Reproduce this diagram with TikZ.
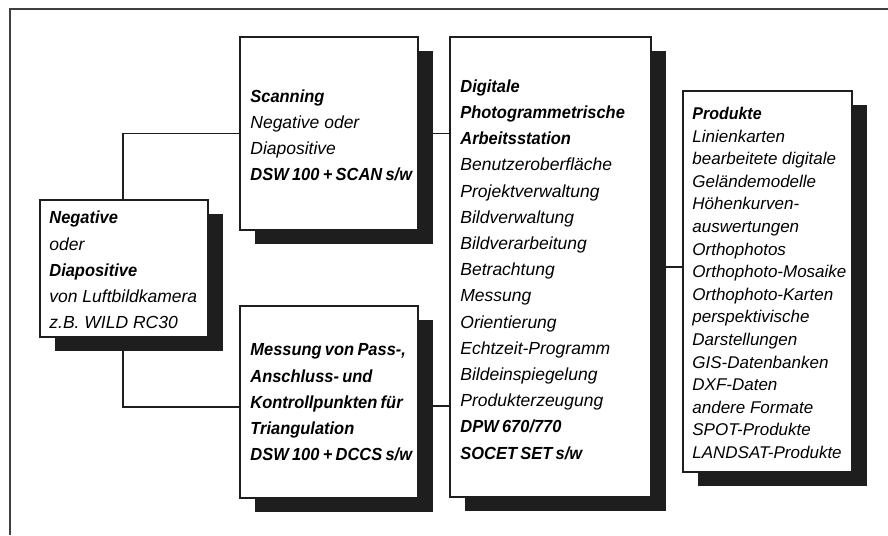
\documentclass[tikz,border=0pt]{standalone}
\usepackage{fontspec}
\setmainfont{Liberation Sans}[BoldFeatures={FakeStretch=0.94,WordSpace=0.72},BoldItalicFeatures={FakeStretch=0.94,WordSpace=0.72}]
\usetikzlibrary{shadows,backgrounds}
\definecolor{ink}{HTML}{1E1E1E}
\tikzset{
  box/.style={draw=ink, line width=1.6pt, fill=white, inner sep=0pt,
    general shadow={fill=ink, shadow xshift=15pt, shadow yshift=-14pt}},
  txt/.style={inner sep=0pt, align=left, anchor=west,
    font=\fontsize{17.5}{26.2}\selectfont\itshape},
  conn/.style={draw=ink, line width=1.5pt},
  frame/.style={draw=ink!85, line width=1.4pt}
}
\newcommand{\hd}[1]{\textbf{#1}}
\begin{document}
\begin{tikzpicture}[x=1pt,y=-1pt]
\useasboundingbox (0,0) rectangle (888,535);
\coordinate (ftr) at (888,9);
\coordinate (ftl) at (10,9);
\coordinate (fbl) at (10,535);
\draw[frame] (ftr) -- (ftl) -- (fbl);

\node[box, minimum width=168pt, minimum height=137pt] (neg) at (124,268.5) {};
\node[box, minimum width=178pt, minimum height=193pt] (scan) at (329,133.5) {};
\node[box, minimum width=178pt, minimum height=192pt] (mess) at (329,402) {};
\node[box, minimum width=201pt, minimum height=460pt] (dpw) at (550.5,267) {};
\node[box, minimum width=169pt, minimum height=381pt] (prod) at (767.5,281.5) {};

\node[txt] (negT) at ([xshift=10pt,yshift=-1.5pt]neg.west)
  {\hd{Negative}\\oder\\\hd{Diapositive}\\von Luftbildkamera\\z.B. WILD RC30};
\node[txt] (scanT) at ([xshift=11pt,yshift=-2pt]scan.west)
  {\hd{Scanning}\\Negative oder\\Diapositive\\\hd{DSW 100 + SCAN s/w}};
\node[txt] (messT) at ([xshift=11pt,yshift=-0.5pt]mess.west)
  {\hd{Messung von Pass-,}\\\hd{Anschluss- und}\\\hd{Kontrollpunkten für}\\\hd{Triangulation}\\\hd{DSW 100 + DCCS s/w}};
\node[txt] (dpwT) at ([xshift=11pt,yshift=-2.5pt]dpw.west)
  {\hd{Digitale}\\\hd{Photogrammetrische}\\\hd{Arbeitsstation}\\Benutzeroberfläche\\Projektverwaltung\\Bildverwaltung\\Bildverarbeitung\\Betrachtung\\Messung\\Orientierung\\Echtzeit-Programm\\Bildeinspiegelung\\Produkterzeugung\\\hd{DPW 670/770}\\\hd{SOCET SET s/w}};
\node[txt, font=\fontsize{17}{22.6}\selectfont\itshape] (prodT) at ([xshift=10pt,yshift=-1.5pt]prod.west)
  {\hd{Produkte}\\Linienkarten\\bearbeitete digitale\\Geländemodelle\\Höhenkurven-\\auswertungen\\Orthophotos\\Orthophoto-Mosaike\\Orthophoto-Karten\\perspektivische\\Darstellungen\\GIS-Datenbanken\\DXF-Daten\\andere Formate\\SPOT-Produkte\\LANDSAT-Produkte};

\coordinate (messr) at ([yshift=-4pt]mess.east);
\coordinate (messl) at ([yshift=-5pt]mess.west);
\begin{scope}[on background layer]
\draw[conn] ([xshift=-1pt]neg.north) |- (scan.west);
\draw[conn] ([xshift=-1pt]neg.south) |- (messl);
\draw[conn] (scan.east) -- (dpw.west |- scan.east);
\draw[conn] (messr) -- (dpw.west |- messr);
\draw[conn] (dpw.east) -- (prod.west |- dpw.east);
\end{scope}
\end{tikzpicture}
\end{document}
